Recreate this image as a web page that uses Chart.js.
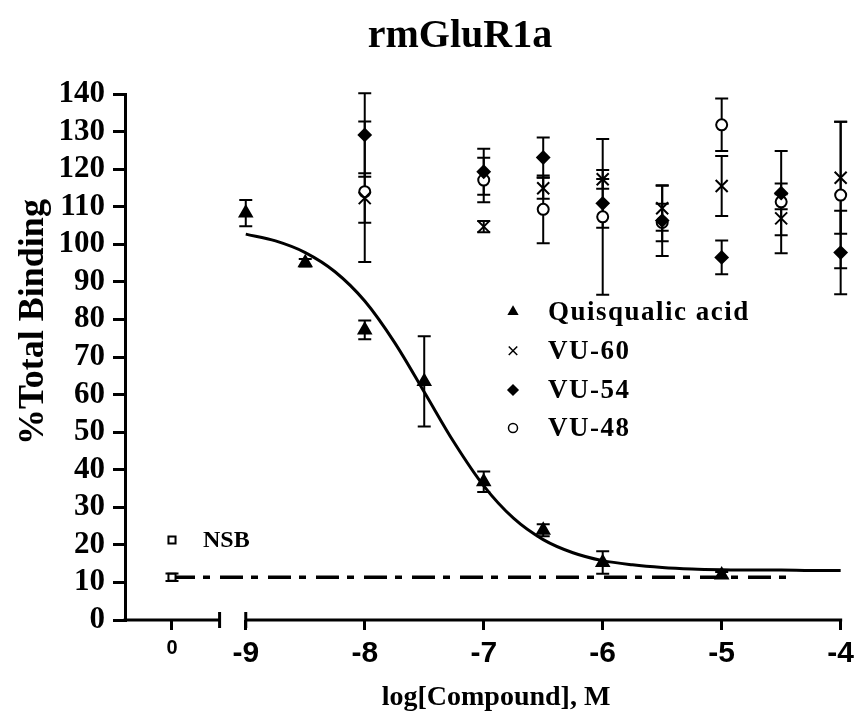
<!DOCTYPE html>
<html>
<head>
<meta charset="utf-8">
<title>rmGluR1a</title>
<script src="https://cdn.jsdelivr.net/npm/chart.js@4.4.1/dist/chart.umd.min.js"></script>
<style>
  body { margin: 0; background: #fff; }
  canvas { display: block; }
</style>
</head>
<body>
<canvas id="chart" width="860" height="721"></canvas>
<script>
const chartTitle = 'rmGluR1a';
const xTitle = 'log[Compound], M';
const yTitle = '%Total Binding';

// x ticks: the "0" tick sits left of the axis break
const xTickValues = [-9.62, -9, -8, -7, -6, -5, -4];
const xTickLabels = ['0', '-9', '-8', '-7', '-6', '-5', '-4'];
const axisBreak = [-9.22, -9];

// Quisqualic acid
const quisX = [-9, -8.5, -8, -7.5, -7, -6.5, -6, -5];
const quisY = [108.3, 95.1, 77.2, 63.5, 36.8, 23.9, 15.3, 12.0];
const quisErr = [3.5, 1.0, 2.5, 12.0, 2.7, 1.6, 3.0, 0.8];

// VU compounds share the same concentrations
const vuX = [-8, -7, -6.5, -6, -5.5, -5, -4.5, -4];
const vu60Y = [112.3, 104.7, 114.9, 117.3, 109.6, 115.5, 106.9, 117.7];
const vu60Err = [6.6, 1.5, 2.8, 2.5, 6.0, 8.0, 9.3, 14.9];
const vu54Y = [129.1, 119.3, 123.1, 110.9, 106.3, 96.5, 113.6, 97.8];
const vu54Err = [11.1, 6.1, 5.3, 6.5, 9.4, 4.5, 11.2, 11.1];
const vu48Y = [114.0, 117.1, 109.3, 107.3, 105.8, 131.8, 111.3, 113.1];
const vu48Err = [18.7, 5.9, 9.0, 20.7, 5.0, 7.0, 2.0, 19.5];

// non-specific binding
const nsbX = [-9.62];
const nsbY = [11.4];
const nsbErr = [1.0];
const nsbLineX = [-9.62, -4.38];
const nsbLineY = [11.4, 11.4];

// fitted curve for quisqualic acid
const fitX = [-9, -8.75, -8.5, -8.25, -8, -7.75, -7.5, -7.25, -7, -6.75, -6.5,
              -6.25, -6, -5.75, -5.5, -5.25, -5, -4.75, -4.5, -4.25, -4];
const fitY = [102.7, 100.9, 97.8, 92.7, 84.9, 73.9, 60.7, 47.3, 35.7, 27.1, 21.4,
              17.9, 15.8, 14.7, 14.0, 13.6, 13.4, 13.3, 13.3, 13.2, 13.2];

const serif = '"Liberation Serif", "Times New Roman", serif';
const sans = '"Liberation Sans", Arial, sans-serif';

function pts(xs, ys) {
    return xs.map((x, i) => ({ x: x, y: ys[i] }));
}

function markerSet(label, xs, ys, errs, style, radius, fill, legendRow) {
    return {
        label: label,
        data: pts(xs, ys),
        errors: errs,
        legendRow: legendRow,
        pointStyle: style,
        pointRadius: radius,
        pointBackgroundColor: fill,
        pointBorderColor: '#000',
        pointBorderWidth: 2,
        showLine: false,
        clip: false
    };
}

const datasets = [
    markerSet('Quisqualic acid', quisX, quisY, quisErr, 'triangle', 7, '#000', 0),
    markerSet('VU-60', vuX, vu60Y, vu60Err, 'crossRot', 8.5, '#000', 1),
    markerSet('VU-54', vuX, vu54Y, vu54Err, 'rectRot', 6, '#000', 2),
    markerSet('VU-48', vuX, vu48Y, vu48Err, 'circle', 5.5, '#fff', 3),
    markerSet('NSB', nsbX, nsbY, nsbErr, 'rect', 5, '#fff', -1),
    {
        label: 'fit',
        data: pts(fitX, fitY),
        showLine: true,
        borderColor: '#000',
        borderWidth: 3,
        pointRadius: 0,
        cubicInterpolationMode: 'monotone',
        clip: false
    },
    {
        label: 'nsb line',
        data: pts(nsbLineX, nsbLineY),
        showLine: true,
        borderColor: '#000',
        borderWidth: 3.5,
        borderDash: [23, 8, 7, 10],
        borderCapStyle: 'butt',
        pointRadius: 0,
        clip: false
    }
];

const legendRows = [311.7, 350.7, 390, 428];
const legendSmall = { triangle: 5, crossRot: 6, rectRot: 5, circle: 4.5, rect: 4.5 };

const extras = {
    id: 'extras',
    beforeDatasetsDraw(chart) {
        const ctx = chart.ctx;
        const yScale = chart.scales.y;
        ctx.save();
        ctx.strokeStyle = '#000';
        ctx.lineWidth = 2;
        chart.data.datasets.forEach((ds, di) => {
            if (!ds.errors) return;
            chart.getDatasetMeta(di).data.forEach((pt, i) => {
                const v = ds.data[i].y;
                const e = ds.errors[i];
                const top = yScale.getPixelForValue(v + e);
                const bot = yScale.getPixelForValue(v - e);
                ctx.beginPath();
                ctx.moveTo(pt.x, top);
                ctx.lineTo(pt.x, bot);
                ctx.moveTo(pt.x - 6.5, top);
                ctx.lineTo(pt.x + 6.5, top);
                ctx.moveTo(pt.x - 6.5, bot);
                ctx.lineTo(pt.x + 6.5, bot);
                ctx.stroke();
            });
        });
        ctx.restore();
    },
    afterDraw(chart) {
        const ctx = chart.ctx;
        const area = chart.chartArea;
        const xScale = chart.scales.x;
        const bx0 = xScale.getPixelForValue(axisBreak[0]);
        const bx1 = xScale.getPixelForValue(axisBreak[1]);
        const yb = area.bottom;

        ctx.save();
        ctx.strokeStyle = '#000';
        ctx.fillStyle = '#000';

        // broken x axis
        ctx.lineWidth = 3;
        ctx.beginPath();
        ctx.moveTo(area.left - 1.5, yb);
        ctx.lineTo(bx0, yb);
        ctx.moveTo(bx1, yb);
        ctx.lineTo(area.right + 1.5, yb);
        ctx.moveTo(bx0, yb - 8);
        ctx.lineTo(bx0, yb + 8);
        ctx.moveTo(bx1, yb - 8);
        ctx.lineTo(bx1, yb + 8);
        ctx.stroke();

        // legend
        ctx.font = 'bold 27px ' + serif;
        ctx.textBaseline = 'middle';
        ctx.textAlign = 'left';
        chart.data.datasets.forEach(ds => {
            if (ds.legendRow === undefined || ds.legendRow < 0) return;
            const y = legendRows[ds.legendRow];
            ctx.fillStyle = ds.pointBackgroundColor;
            ctx.strokeStyle = '#000';
            ctx.lineWidth = 1.5;
            Chart.helpers.drawPoint(ctx, {
                pointStyle: ds.pointStyle,
                radius: legendSmall[ds.pointStyle],
                rotation: 0,
                borderWidth: 1.5
            }, 513, y);
            ctx.fillStyle = '#000';
            ctx.letterSpacing = '1.5px';
            ctx.fillText(ds.label, 548, y + 1);
            ctx.letterSpacing = '0px';
        });

        // NSB label
        const nsbPx = xScale.getPixelForValue(nsbX[0]);
        ctx.fillStyle = '#fff';
        ctx.lineWidth = 2;
        Chart.helpers.drawPoint(ctx, { pointStyle: 'rect', radius: 5, rotation: 0, borderWidth: 2 }, nsbPx, 540);
        ctx.fillStyle = '#000';
        ctx.font = 'bold 24px ' + serif;
        ctx.fillText('NSB', 203, 541);

        // titles
        ctx.textAlign = 'center';
        ctx.textBaseline = 'alphabetic';
        ctx.font = 'bold 40px ' + serif;
        ctx.fillText(chartTitle, 460, 47);

        ctx.font = 'bold 28px ' + serif;
        ctx.fillText(xTitle, 496, 705);

        ctx.translate(43, 322);
        ctx.rotate(-Math.PI / 2);
        ctx.font = 'bold 36px ' + serif;
        ctx.fillText(yTitle, 0, 0);
        ctx.restore();
    }
};

new Chart(document.getElementById('chart'), {
    type: 'scatter',
    data: { datasets: datasets },
    options: {
        responsive: false,
        animation: false,
        layout: { padding: { top: 94, right: 18, left: 0, bottom: 0 } },
        plugins: {
            legend: { display: false },
            tooltip: { enabled: false },
            title: { display: false }
        },
        scales: {
            x: {
                type: 'linear',
                min: -10.015,
                max: -4,
                afterBuildTicks: (s) => { s.ticks = xTickValues.map(v => ({ value: v })); },
                afterFit: (s) => { s.height = 101; },
                ticks: {
                    autoSkip: false,
                    maxRotation: 0,
                    color: '#000',
                    padding: 6,
                    callback: (v, i) => xTickLabels[i],
                    font: (c) => ({ family: sans, weight: 'bold', size: c.index === 0 ? 20 : 30 })
                },
                grid: { drawOnChartArea: false, tickLength: 10, lineWidth: 3, color: '#000' },
                border: { display: false }
            },
            y: {
                min: 0,
                max: 140,
                afterFit: (s) => { s.width = 125; },
                ticks: {
                    stepSize: 10,
                    autoSkip: false,
                    color: '#000',
                    padding: 8,
                    font: { family: serif, weight: 'bold', size: 31 }
                },
                grid: { drawOnChartArea: false, tickLength: 12, lineWidth: 3, color: '#000' },
                border: { display: true, width: 3, color: '#000' }
            }
        }
    },
    plugins: [extras]
});
</script>
</body>
</html>
